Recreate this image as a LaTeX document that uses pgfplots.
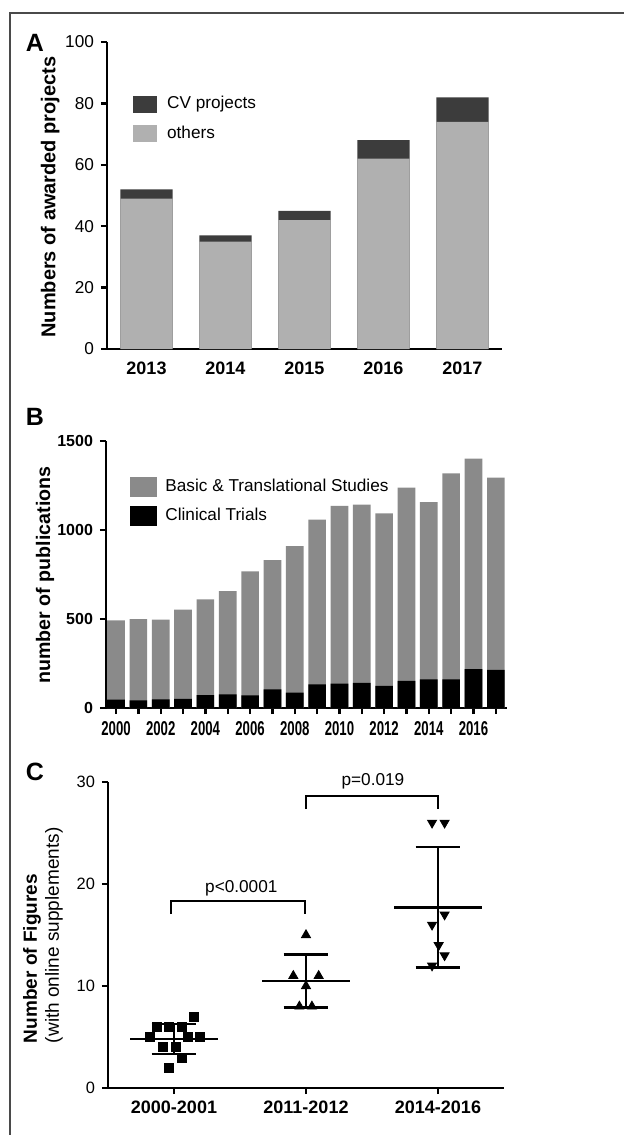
\documentclass[border=0pt]{standalone}
\usepackage{fontspec}
\setmainfont{Liberation Sans}
\usepackage{graphicx}
\usepackage{pgfplots}
\pgfplotsset{compat=1.18}
\definecolor{cvdark}{HTML}{3C3C3C}
\definecolor{otherc}{HTML}{B0B0B0}
\definecolor{basic}{HTML}{8A8A8A}
\definecolor{framec}{HTML}{4A4A4A}
\newcommand{\sq}[1]{\scalebox{0.66}[1]{#1}}
\pgfplotsset{
  mystyle/.style={
    scale only axis,
    axis lines=left,
    axis line style={-, line width=1.4pt},
    tick style={line width=1.2pt, black},
    tick align=outside,
    major tick length=3pt,
    /pgf/number format/assume math mode=true,
    /pgf/number format/1000 sep={},
    clip=false,
  }
}
\begin{document}
\begin{tikzpicture}
\path[use as bounding box] (0,0) rectangle (311.5pt,-567.5pt);
\draw[line width=1pt, framec] (5pt,-600pt) -- (5pt,-6.5pt) -- (330pt,-6.5pt);
\node[font=\bfseries\fontsize{12.5pt}{14pt}\selectfont] at (17.5pt,-21.5pt) {A};
\node[font=\bfseries\fontsize{12.5pt}{14pt}\selectfont] at (17.5pt,-208.5pt) {B};
\node[font=\bfseries\fontsize{12.5pt}{14pt}\selectfont] at (17.5pt,-386pt) {C};

% Panel A
\begin{axis}[mystyle, at={(53.5pt,-174.5pt)}, anchor=south west,
  width=197.5pt, height=153.5pt,
  xmin=-0.5, xmax=4.5, ymin=0, ymax=100, ytick={0,20,40,60,80,100},
  xtick={0,1,2,3,4}, xticklabels={2013,2014,2015,2016,2017},
  x tick style={draw=none},
  xticklabel style={font=\bfseries\fontsize{9pt}{10pt}\selectfont},
  yticklabel style={font=\fontsize{8.6pt}{10pt}\selectfont},
  ylabel={Numbers of awarded projects},
  ylabel style={font=\bfseries\fontsize{10pt}{12pt}\selectfont, at={(rel axis cs:-0.144,0.495)}, anchor=center},
  legend style={at={(0.05,0.85)}, anchor=north west, draw=none, fill=none,
    font=\fontsize{8.6pt}{10pt}\selectfont, row sep=3pt},
  legend cell align=left,
  legend image code/.code={\path[#1] (0pt,-4.25pt) rectangle (12pt,4.25pt); \path (15pt,0pt);},
]
\addplot[ybar, bar width=0.66, bar shift=0pt, fill=cvdark, draw=none]
  coordinates {(0,52) (1,37) (2,45) (3,68) (4,82)};
\addlegendentry{CV projects}
\addplot[ybar, bar width=0.66, bar shift=0pt, fill=otherc, draw=none]
  coordinates {(0,49) (1,35) (2,42) (3,62) (4,74)};
\addlegendentry{others}
\end{axis}

% Panel B
\begin{axis}[mystyle, at={(53pt,-354pt)}, anchor=south west,
  width=200.5pt, height=133.5pt,
  xmin=-0.45, xmax=17.5, ymin=0, ymax=1500, ytick={0,500,1000,1500},
  xtick={0,...,17},
  xticklabels={\sq{2000},,\sq{2002},,\sq{2004},,\sq{2006},,\sq{2008},,\sq{2010},,\sq{2012},,\sq{2014},,\sq{2016},},
  xticklabel style={font=\bfseries\fontsize{10pt}{11pt}\selectfont},
  yticklabel style={font=\bfseries\fontsize{8pt}{10pt}\selectfont},
  ylabel={number of publications},
  ylabel style={font=\bfseries\fontsize{9.8pt}{12pt}\selectfont, at={(rel axis cs:-0.152,0.498)}, anchor=center},
  legend style={at={(0.045,0.89)}, anchor=north west, draw=none, fill=none,
    font=\fontsize{8.6pt}{10pt}\selectfont, row sep=3pt},
  legend cell align=left,
  legend image code/.code={\path[#1] (0pt,-5pt) rectangle (13.5pt,5pt); \path (15.5pt,0pt);},
]
\addplot[ybar, bar width=0.79, bar shift=0pt, fill=basic, draw=none]
  coordinates {(0,493) (1,500) (2,497) (3,553) (4,611) (5,656) (6,767) (7,831) (8,909) (9,1059) (10,1136) (11,1142) (12,1093) (13,1238) (14,1157) (15,1318) (16,1401) (17,1294)};
\addlegendentry{Basic \& Translational Studies}
\addplot[ybar, bar width=0.79, bar shift=0pt, fill=black, draw=none]
  coordinates {(0,47) (1,43) (2,49) (3,52) (4,73) (5,77) (6,71) (7,105) (8,86) (9,133) (10,137) (11,141) (12,124) (13,152) (14,161) (15,161) (16,219) (17,214)};
\addlegendentry{Clinical Trials}
\end{axis}

% Panel C
\begin{axis}[mystyle, at={(54pt,-544pt)}, anchor=south west,
  width=198pt, height=153pt,
  xmin=-0.5, xmax=2.5, ymin=0, ymax=30, ytick={0,10,20,30},
  xtick={0,1,2}, xticklabels={2000-2001,2011-2012,2014-2016},
  xticklabel style={font=\bfseries\fontsize{9pt}{10pt}\selectfont},
  yticklabel style={font=\fontsize{8.2pt}{10pt}\selectfont},
  ylabel={\textbf{Number of Figures}\\\fontsize{9.5pt}{11pt}\selectfont(with online supplements)},
  ylabel style={font=\fontsize{9.5pt}{11pt}\selectfont, align=left, at={(rel axis cs:-0.164,0.124)}, anchor=west},
]
% group 1
\addplot[only marks, mark=square*, mark size=2.25pt, black]
  coordinates {(0.15,7) (-0.133,6) (-0.038,6) (0.058,6) (-0.184,5) (0.106,5) (0.2,5) (-0.083,4) (0.013,4) (0.058,3) (-0.038,2)};
\addplot[black, line width=1.25pt] coordinates {(-0.33,4.82) (0.33,4.82)};
\addplot[black, line width=1.25pt] coordinates {(-0.17,6.29) (0.17,6.29)};
\addplot[black, line width=1.25pt] coordinates {(-0.17,3.35) (0.17,3.35)};
\addplot[black, line width=1.25pt] coordinates {(0,3.35) (0,6.29)};
% group 2
\addplot[only marks, mark=triangle*, mark size=2.6pt, black]
  coordinates {(1,15) (0.904,11) (1.096,11) (1,10) (0.95,8) (1.045,8)};
\addplot[black, line width=1.25pt] coordinates {(0.67,10.5) (1.33,10.5)};
\addplot[black, line width=1.25pt] coordinates {(0.83,13.09) (1.17,13.09)};
\addplot[black, line width=1.25pt] coordinates {(0.83,7.91) (1.17,7.91)};
\addplot[black, line width=1.25pt] coordinates {(1,7.91) (1,13.09)};
% group 3
\addplot[only marks, mark=triangle*, mark size=2.6pt, mark options={rotate=180}, black]
  coordinates {(1.955,26) (2.05,26) (2.05,17) (1.955,16) (2.005,14) (2.05,13) (1.955,12)};
\addplot[black, line width=1.25pt] coordinates {(1.67,17.71) (2.33,17.71)};
\addplot[black, line width=1.25pt] coordinates {(1.83,23.62) (2.17,23.62)};
\addplot[black, line width=1.25pt] coordinates {(1.83,11.8) (2.17,11.8)};
\addplot[black, line width=1.25pt] coordinates {(2,11.8) (2,23.62)};
% brackets
\addplot[black, line width=1pt] coordinates {(-0.025,17.06) (-0.025,18.37) (0.995,18.37) (0.995,17.06)};
\addplot[black, line width=1pt] coordinates {(1,27.35) (1,28.66) (2,28.66) (2,27.35)};
\node[font=\fontsize{8.6pt}{10pt}\selectfont] at (axis cs:0.51,19.6) {p<0.0001};
\node[font=\fontsize{8.6pt}{10pt}\selectfont] at (axis cs:1.507,30.07) {p=0.019};
\end{axis}
\end{tikzpicture}
\end{document}
